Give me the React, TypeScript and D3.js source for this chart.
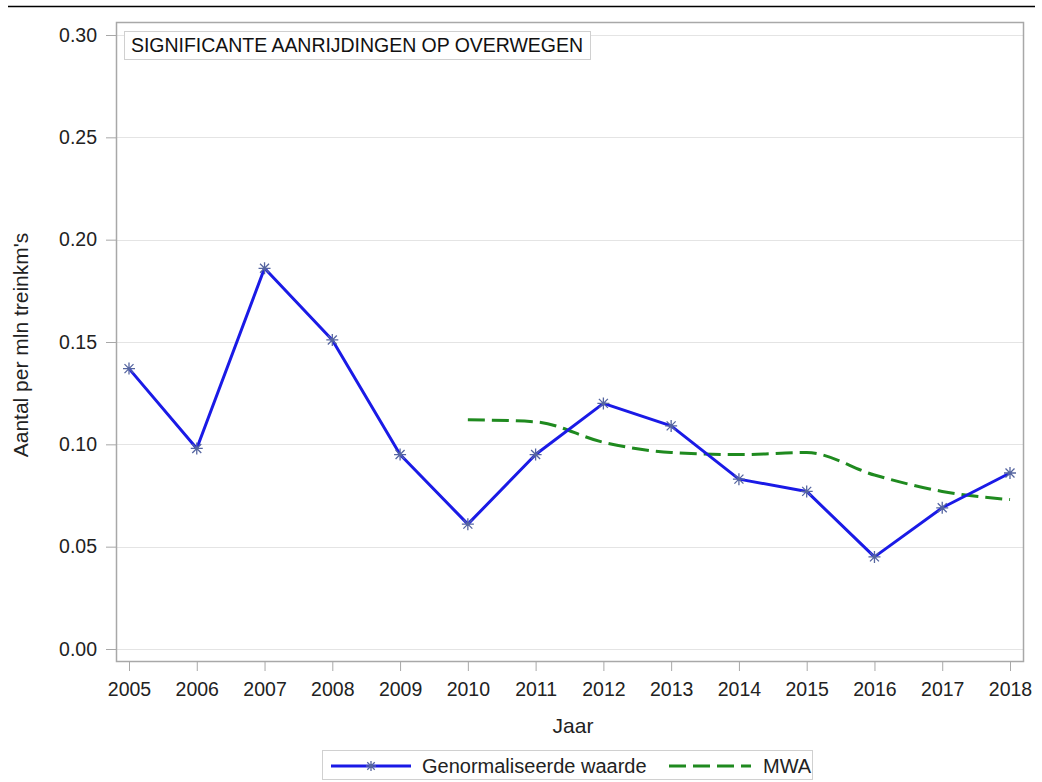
import React, { useEffect, useRef } from "react";
import * as d3 from "d3";

const years = [2005, 2006, 2007, 2008, 2009, 2010, 2011, 2012, 2013, 2014, 2015, 2016, 2017, 2018];
const normValues = [0.137, 0.098, 0.186, 0.151, 0.095, 0.061, 0.095, 0.12, 0.109, 0.083, 0.077, 0.045, 0.069, 0.086];
const mwaYears = [2010, 2011, 2012, 2013, 2014, 2015, 2016, 2017, 2018];
const mwaValues = [0.112, 0.111, 0.101, 0.096, 0.095, 0.096, 0.085, 0.077, 0.073];
const yTicks = [0, 0.05, 0.1, 0.15, 0.2, 0.25, 0.3];

const FONT = "'Liberation Sans', Arial, sans-serif";

const App = () => {
  const svgRef = useRef<SVGSVGElement>(null);

  useEffect(() => {
    const W = 1042;
    const H = 782;
    const svg = d3.select(svgRef.current).attr("width", W).attr("height", H);
    svg.selectAll("*").remove();

    const frame = { left: 116, top: 22, right: 1023, bottom: 661 };

    const x = d3.scaleLinear().domain([2005, 2018]).range([129, 1010]);
    const y = d3.scaleLinear().domain([0, 0.3]).range([649, 35]);

    // top rule
    svg.append("line").attr("x1", 8).attr("x2", 1035).attr("y1", 6.5).attr("y2", 6.5)
      .attr("stroke", "#000").attr("stroke-width", 1.5);

    // gridlines
    svg.append("g").selectAll("line").data(yTicks).join("line")
      .attr("x1", frame.left).attr("x2", frame.right)
      .attr("y1", (d) => Math.round(y(d)) + 0.5).attr("y2", (d) => Math.round(y(d)) + 0.5)
      .attr("stroke", "#e4e4e4").attr("stroke-width", 1);

    // frame
    svg.append("rect").attr("x", frame.left + 0.5).attr("y", frame.top + 0.5)
      .attr("width", frame.right - frame.left).attr("height", frame.bottom - frame.top)
      .attr("fill", "none").attr("stroke", "#a8a8a8").attr("stroke-width", 1.5);

    // y axis
    const yAxis = d3.axisLeft(y).tickValues(yTicks).tickFormat(d3.format(".2f")).tickSize(10).tickPadding(9);
    const gy = svg.append("g").attr("transform", `translate(${frame.left},0)`).call(yAxis);
    gy.select(".domain").remove();
    gy.selectAll(".tick line").attr("stroke", "#a8a8a8");
    gy.selectAll(".tick text").attr("font-family", FONT).attr("font-size", 19.5).attr("fill", "#222");

    // x axis
    const xAxis = d3.axisBottom(x).tickValues(years).tickFormat(d3.format("d")).tickSize(10).tickPadding(11);
    const gx = svg.append("g").attr("transform", `translate(0,${frame.bottom})`).call(xAxis);
    gx.select(".domain").remove();
    gx.selectAll(".tick line").attr("stroke", "#a8a8a8");
    gx.selectAll(".tick text").attr("font-family", FONT).attr("font-size", 19.5).attr("fill", "#222");

    // axis labels
    svg.append("text").attr("x", 573).attr("y", 733).attr("text-anchor", "middle")
      .attr("font-family", FONT).attr("font-size", 21).attr("fill", "#222").text("Jaar");
    svg.append("text").attr("transform", "translate(28,345) rotate(-90)").attr("text-anchor", "middle")
      .attr("font-family", FONT).attr("font-size", 21).attr("fill", "#222").text("Aantal per mln treinkm's");

    // title inset
    svg.append("rect").attr("x", 124.5).attr("y", 31.5).attr("width", 466).attr("height", 28)
      .attr("fill", "#fff").attr("stroke", "#d0d0d0");
    svg.append("text").attr("x", 131).attr("y", 52).attr("font-family", FONT).attr("font-size", 19.5)
      .attr("textLength", 452).attr("fill", "#111").text("SIGNIFICANTE AANRIJDINGEN OP OVERWEGEN");

    // MWA line
    const mwaLine = d3.line<number>().x((d, i) => x(mwaYears[i])).y((d) => y(d)).curve(d3.curveMonotoneX);
    svg.append("path").attr("d", mwaLine(mwaValues)).attr("fill", "none")
      .attr("stroke", "#1f8a1f").attr("stroke-width", 3).attr("stroke-dasharray", "17 7");

    // normalized line
    const normLine = d3.line<number>().x((d, i) => x(years[i])).y((d) => y(d));
    svg.append("path").attr("d", normLine(normValues)).attr("fill", "none")
      .attr("stroke", "#1a1ae6").attr("stroke-width", 3).attr("stroke-linejoin", "round");

    const star = (g: any, cx: number, cy: number, r: number) => {
      const p = [
        `M${cx - r},${cy}L${cx + r},${cy}`,
        `M${cx},${cy - r}L${cx},${cy + r}`,
        `M${cx - r * 0.75},${cy - r * 0.75}L${cx + r * 0.75},${cy + r * 0.75}`,
        `M${cx - r * 0.75},${cy + r * 0.75}L${cx + r * 0.75},${cy - r * 0.75}`,
      ].join("");
      g.append("path").attr("d", p).attr("stroke", "#5565a0").attr("stroke-width", 1.3).attr("fill", "none");
    };
    const markers = svg.append("g");
    normValues.forEach((v, i) => star(markers, x(years[i]), y(v), 6));

    // legend
    const lg = svg.append("g");
    lg.append("rect").attr("x", 322.5).attr("y", 750.5).attr("width", 490).attr("height", 29)
      .attr("fill", "#fff").attr("stroke", "#d0d0d0");
    lg.append("line").attr("x1", 331).attr("x2", 411).attr("y1", 766).attr("y2", 766)
      .attr("stroke", "#1a1ae6").attr("stroke-width", 3);
    star(lg, 371, 766, 5);
    lg.append("text").attr("x", 422).attr("y", 773).attr("font-family", FONT).attr("font-size", 20)
      .attr("fill", "#222").text("Genormaliseerde waarde");
    lg.append("line").attr("x1", 669).attr("x2", 751).attr("y1", 766).attr("y2", 766)
      .attr("stroke", "#1f8a1f").attr("stroke-width", 3).attr("stroke-dasharray", "17 7");
    lg.append("text").attr("x", 763).attr("y", 773).attr("font-family", FONT).attr("font-size", 20)
      .attr("fill", "#222").text("MWA");
  }, []);

  return (
    <div>
      <svg ref={svgRef} style={{ position: "absolute", left: 0, top: 0 }}></svg>
    </div>
  );
};

export default App;
